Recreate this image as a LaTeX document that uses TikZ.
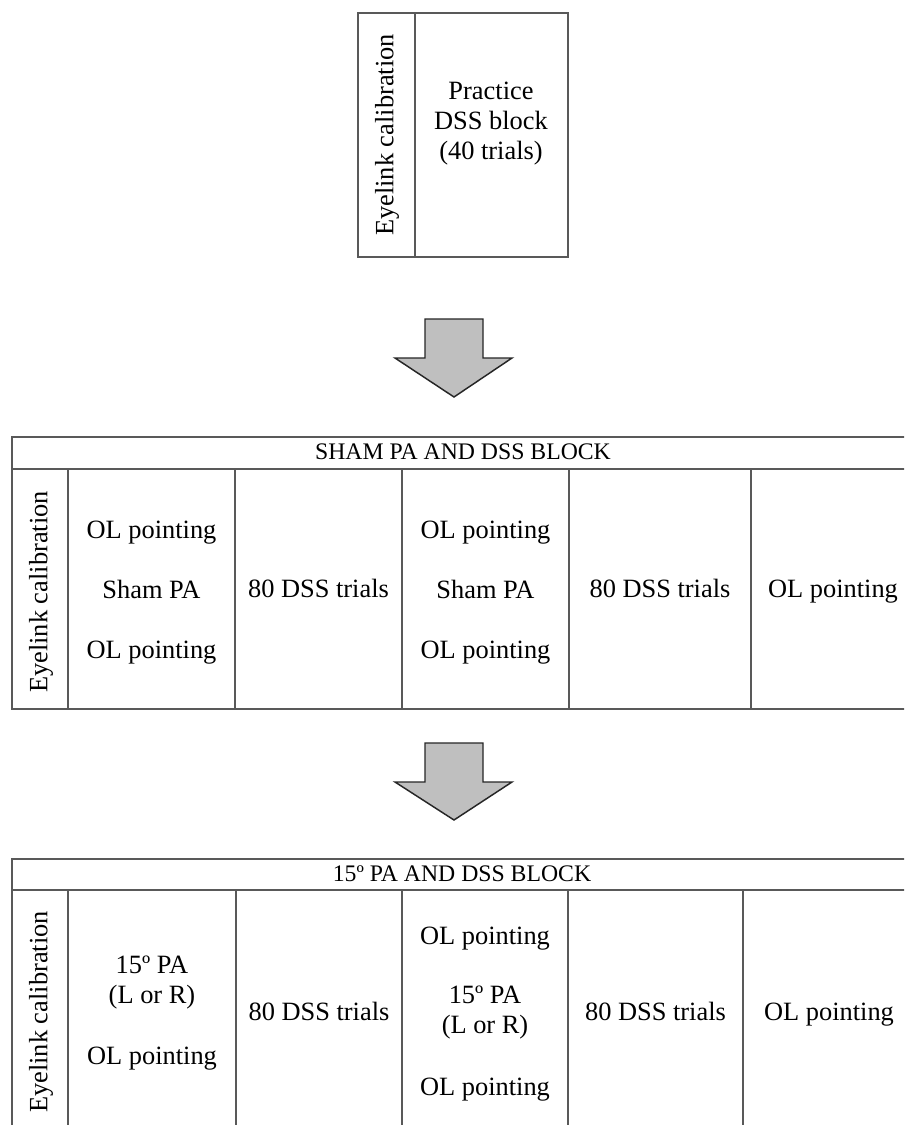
\documentclass[tikz,border=0pt]{standalone}
\usepackage{fontspec}
\setmainfont{Liberation Serif}
\begin{document}
\begin{tikzpicture}[x=0.75pt,y=-0.75pt,
  gridline/.style={draw=black!65, line width=0.9pt},
  txtm/.style={inner sep=0pt, font=\fontsize{19.8}{22.5}\selectfont, align=center},
  txt/.style={txtm, text height=13.9pt, text depth=4.4pt},
  hdr/.style={inner sep=0pt, font=\fontsize{17.8}{22}\selectfont,
    text height=12.5pt, text depth=4pt},
  vtxt/.style={txt, rotate=90},
  blockarrow/.style={draw=black!85, line width=1.1pt, fill=black!25, line join=miter}]
\path[use as bounding box] (0,0) rectangle (904,1125);
\clip (0,0) rectangle (904,1125);
\fill[white] (0,0) rectangle (904,1125);

% ---------- top box ----------
\draw[gridline] (358,13) rectangle (568,257);
\draw[gridline] (415,13) -- (415,257);
\node[vtxt] (topcal) at (387,135) {Eyelink calibration};
\node[txtm] (practice) at (491,124) {Practice\\DSS block\\(40 trials)};

% ---------- arrow 1 ----------
\draw[blockarrow] (425,319) -- (483,319) -- (483,358) -- (512,358) -- (454,397)
  -- (395,358) -- (425,358) -- cycle;

% ---------- table 1 ----------
\draw[gridline] (12,437) rectangle (915,709);
\draw[gridline] (12,469) -- (915,469);
\foreach \xx in {68,235,402,569,751} \draw[gridline] (\xx,469) -- (\xx,709);
\node[hdr] (h1) at (463,454) {SHAM PA AND DSS BLOCK};
\node[vtxt] (c1a) at (41,592) {Eyelink calibration};
\node[txt] (c1b1) at (151.5,532) {OL pointing};
\node[txt] (c1b2) at (151.5,592) {Sham PA};
\node[txt] (c1b3) at (151.5,652) {OL pointing};
\node[txt] (c1c) at (318.5,591) {80 DSS trials};
\node[txt] (c1d1) at (485.5,532) {OL pointing};
\node[txt] (c1d2) at (485.5,592) {Sham PA};
\node[txt] (c1d3) at (485.5,652) {OL pointing};
\node[txt] (c1e) at (660,591) {80 DSS trials};
\node[txt] (c1f) at (833,591) {OL pointing};

% ---------- arrow 2 ----------
\draw[blockarrow] (425,743) -- (483,743) -- (483,782) -- (512,782) -- (454,820)
  -- (395,782) -- (425,782) -- cycle;

% ---------- table 2 ----------
\draw[gridline] (12,1140) -- (12,859) -- (915,859);
\draw[gridline] (12,890) -- (915,890);
\foreach \xx in {68,236,402,568,743} \draw[gridline] (\xx,890) -- (\xx,1140);
\node[hdr] (h2) at (462,876) {15º PA AND DSS BLOCK};
\node[vtxt] (c2a) at (41,1012) {Eyelink calibration};
\node[txtm] (c2b1) at (152,983) {15º PA\\(L or R)};
\node[txt] (c2b2) at (152,1058) {OL pointing};
\node[txt] (c2c) at (319,1014) {80 DSS trials};
\node[txt] (c2d1) at (485,938) {OL pointing};
\node[txtm] (c2d2) at (485,1013) {15º PA\\(L or R)};
\node[txt] (c2d3) at (485,1089) {OL pointing};
\node[txt] (c2e) at (655.5,1014) {80 DSS trials};
\node[txt] (c2f) at (829,1014) {OL pointing};
\end{tikzpicture}
\end{document}
